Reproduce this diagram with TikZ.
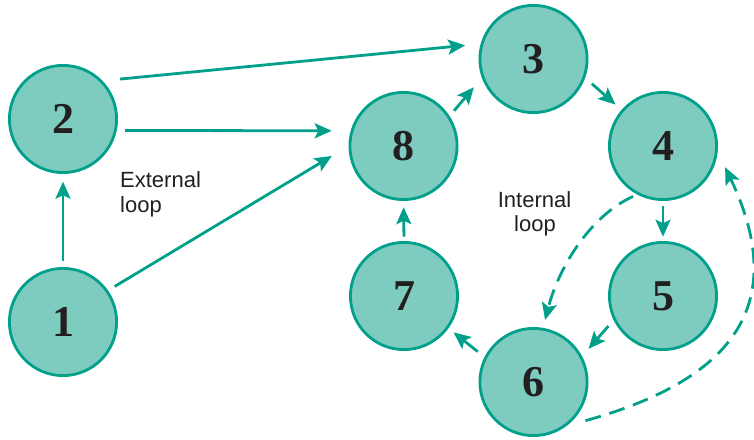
\documentclass[tikz,border=0pt]{standalone}
\usepackage{fontspec}
\setmainfont{Liberation Serif}
\newfontfamily\labelfont{Liberation Sans}
\usetikzlibrary{arrows.meta}

\definecolor{tealfill}{RGB}{126,204,192}
\definecolor{tealline}{RGB}{0,160,138}
\definecolor{inkc}{RGB}{35,31,32}

\tikzset{
  stage/.style={circle, draw=tealline, fill=tealfill, line width=2.8pt,
    minimum size=107.2pt, inner sep=0pt, text=inkc,
    font=\fontsize{44}{44}\selectfont\bfseries},
  arr/.style={draw=tealline, line width=2.8pt,
    -{Stealth[length=17pt, width=15pt, inset=3.5pt]}},
  dasharr/.style={arr, dash pattern=on 16pt off 9pt},
  looplabel/.style={text=inkc, inner sep=0pt,
    font=\labelfont\fontsize{22}{22}\selectfont}
}

\begin{document}
\begin{tikzpicture}[x=1pt, y=1pt]
  \useasboundingbox (0,0) rectangle (754,439);

  % stages
  \node[stage] (n1) at (63,117)    {1};
  \node[stage] (n2) at (63,320)    {2};
  \node[stage] (n3) at (533.5,380) {3};
  \node[stage] (n4) at (663,293)   {4};
  \node[stage] (n5) at (663,143)   {5};
  \node[stage] (n6) at (533.5,57)  {6};
  \node[stage] (n7) at (404,143)   {7};
  \node[stage] (n8) at (403.5,293) {8};

  % external loop
  \draw[arr, shorten <=6.3pt, shorten >=7.7pt]  (n1.north) -- (n2.south);
  \draw[arr, shorten <=17.6pt, shorten >=15.6pt] (n2.44.1) -- (n3.164.4);
  \draw[arr, shorten <=8.3pt, shorten >=18.9pt] (n2.-12.6) -- (n8.164.2);
  \draw[arr, shorten <=7.7pt, shorten >=19.5pt] (n1.35.7) -- (n8.180.7);

  % internal loop
  \draw[arr, shorten <=6.9pt, shorten >=12.3pt] (n8.33.2) -- (n3.200.7);
  \draw[arr, shorten <=8.9pt, shorten >=8.1pt]  (n3.-20.2) -- (n4.139.7);
  \draw[arr, shorten <=5pt, shorten >=4.3pt]    (n4.south) -- (n5.north);
  \draw[arr, shorten <=7.9pt, shorten >=9.8pt]  (n5.206) -- (n6.28.7);
  \draw[arr, shorten <=8.6pt, shorten >=6.5pt]  (n6.153) -- (n7.-36.5);
  \draw[arr, shorten <=4.3pt, shorten >=6.2pt]  (n7.north) -- (n8.south);

  % dashed feedback paths
  \draw[dasharr, shorten <=4.5pt, shorten >=8.1pt]
    (n4.242.6) .. controls +(-49.8,-22.6) and +(14.5,56.2) .. (n6.80);
  \draw[dasharr, shorten <=19.5pt, shorten >=17.2pt]
    (n6.-53.5) .. controls +(163.4,45.4) and +(74,-155) .. (n4.-6.8);

  % loop labels
  \node[looplabel, anchor=base west] (ext1) at (120,251.3) {External};
  \node[looplabel, anchor=base west] (ext2) at (120,226)   {loop};
  \node[looplabel, anchor=base] (int1) at (534.5,231.3) {Internal};
  \node[looplabel, anchor=base] (int2) at (535,207.3)   {loop};
\end{tikzpicture}
\end{document}
